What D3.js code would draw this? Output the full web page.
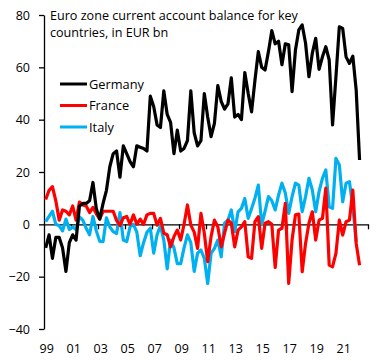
<!DOCTYPE html>
<html>
<head>
<meta charset="utf-8">
<script src="https://cdn.jsdelivr.net/npm/d3@7"></script>
<style>
  body { margin: 0; background: #fff; }
  svg { display: block; font-family: "Open Sans", sans-serif; }
</style>
</head>
<body>
<svg id="chart" width="382" height="361"></svg>
<script>
// quarterly, 1999Q1 .. 2022Q2, EUR bn
const germany = [
  -9, -4, -13, -5, -5, -9, -18, -7, -4, -6, 7, 8, 8, 9, 16, 6,
  2, 8, 13, 22, 27, 28, 18, 30, 27, 24, 22, 30, 29.5, 29, 28, 49,
  45, 38, 37, 51, 42, 39, 27, 36, 28, 29, 32, 51, 35, 30, 32, 50,
  41, 33.5, 38.6, 53, 47, 44, 46, 56, 41, 42, 40, 58, 50, 43, 55, 66,
  60, 59, 66, 74, 69, 70, 61, 69, 68.6, 50.7, 66.6, 74.3, 76.2, 69.2, 56.4, 65.4,
  71.1, 59.2, 64, 67.9, 62.8, 38, 56.4, 75.5, 74.9, 64, 61.5, 64.3, 51.3, 24.6
];
const france = [
  9.5, 13, 14.4, 9, 1.6, 5.5, 5, 3.6, 7, 1.6, 8.5, 7.4, 7, 4.5, 6.5, 4,
  2, 5, 5, 5, 5, 1.5, -0.5, 2.5, 3, 0, 3.6, 0, 2, 0, 3.6, 4.2,
  4.2, -0.3, 2.3, -3.4, -4, -8.6, -4.7, -2.2, -6, 0, 7.4, -0.3, -3, -9.2, 4.2, -3.4,
  -14.3, -4.7, 1.6, -0.9, -8.6, -3.4, 1.6, 0.4, -8.6, -2.2, -1, 1, -12.4, -13, 1, 2.9,
  -9.2, 0.4, 1, 0, -16.5, -2.2, -1.5, 8, -22.6, -6, 3.6, 3.9, -18.1, -7.3, 0.4, 4.8,
  -6, 1.6, 2.3, 13.8, -15.6, -16.2, -11.1, 1.6, -4.1, 1, 1.6, 13.1, -7.3, -15.6
];
const italy = [
  1, 3, 5, 0, -0.5, -2.5, 2, -2, -1, -2, 2.8, 1.6, -1.5, -4, 3, -2.5,
  -6.5, -6.6, 2.5, -1, -2.8, -3.5, 4.5, -6, -6.6, -1, 0, -3, -12, -7, -3, -1.5,
  -11, -4, -0.5, -6, -17, -6, -9, -15, -15, -9, -4, -7, -18, -11, -9.8, -13,
  -22.6, -11.1, -9.2, -6, -12.4, 0.4, 1.6, 5.5, -2.8, 4.8, 6.1, 9.9, 2.3, 6, 10, 15,
  0, 5, 10.6, 9, 5.5, 11.2, 15.7, 12, 4.2, 10.6, 15.7, 15, 4.8, 10.6, 17.6, 13.1,
  4.8, 12.5, 17.6, 20.8, 6.7, 6.1, 25.2, 22.7, 8.6, 15.7, 16.3, 6.7, -6.6, null
];
const series = [
  { name: 'Germany', values: germany, color: '#000000' },
  { name: 'France', values: france, color: '#ff0000' },
  { name: 'Italy', values: italy, color: '#00b0f0' }
];
const yearLabels = ['99', '01', '03', '05', '07', '09', '11', '13', '15', '17', '19', '21'];
const yTicks = [-40, -20, 0, 20, 40, 60, 80];
const nSlots = 96; // axis runs through 2022Q4

const svg = d3.select('#chart');
const plotLeft = 44, plotRight = 368, plotTop = 15, plotBottom = 329;

const x = d3.scaleLinear().domain([0, nSlots]).range([plotLeft, plotRight]);
const y = d3.scaleLinear().domain([-40, 80]).range([plotBottom, plotTop]);

// y axis
svg.append('g')
  .attr('transform', `translate(${plotLeft},0)`)
  .call(d3.axisLeft(y).tickValues(yTicks).tickSize(5).tickPadding(9).tickSizeOuter(0))
  .call((g) => g.select('.domain').attr('stroke', '#000').attr('stroke-width', 1.3))
  .call((g) => g.selectAll('.tick line').attr('stroke', '#000').attr('stroke-width', 1.3))
  .call((g) => g.selectAll('.tick text')
    .attr('font-size', 12.5).attr('fill', '#000')
    .attr('font-family', '"Open Sans", sans-serif'));

// zero line with ticks every 8 quarters
const xTickVals = d3.range(8, nSlots + 1, 8);
svg.append('g')
  .attr('transform', `translate(0,${y(0)})`)
  .call(d3.axisBottom(x).tickValues(xTickVals).tickSize(5).tickFormat('').tickSizeOuter(0))
  .call((g) => g.select('.domain').attr('stroke', '#000').attr('stroke-width', 1.3))
  .call((g) => g.selectAll('.tick line').attr('stroke', '#000').attr('stroke-width', 1.3));

// year labels along the bottom
svg.append('g')
  .selectAll('text')
  .data(yearLabels)
  .join('text')
  .attr('x', (d, i) => x(i * 8 + 0.5) + 1)
  .attr('y', 353)
  .attr('text-anchor', 'middle')
  .attr('font-size', 12.5)
  .text((d) => d);

// lines
const line = d3.line()
  .defined((d) => d != null)
  .x((d, i) => x(i + 0.5))
  .y((d) => y(d));

svg.append('g')
  .selectAll('path')
  .data(series.slice().reverse())
  .join('path')
  .attr('fill', 'none')
  .attr('stroke', (d) => d.color)
  .attr('stroke-width', 3.2)
  .attr('stroke-linejoin', 'round')
  .attr('d', (d) => line(d.values));

// title
svg.append('text')
  .attr('x', 50)
  .attr('y', 19.5)
  .attr('font-size', 12.6)
  .selectAll('tspan')
  .data(['Euro zone current account balance for key', 'countries, in EUR bn'])
  .join('tspan')
  .attr('x', 50)
  .attr('dy', (d, i) => (i === 0 ? 0 : 17.5))
  .text((d) => d);

// legend
const legend = svg.append('g')
  .selectAll('g')
  .data(series)
  .join('g')
  .attr('transform', (d, i) => `translate(60,${84 + i * 21.5})`);
legend.append('line')
  .attr('x1', 0).attr('x2', 27)
  .attr('stroke', (d) => d.color)
  .attr('stroke-width', 3);
legend.append('text')
  .attr('x', 29)
  .attr('y', 4.5)
  .attr('font-size', 12.8)
  .text((d) => d.name);
</script>
</body>
</html>
